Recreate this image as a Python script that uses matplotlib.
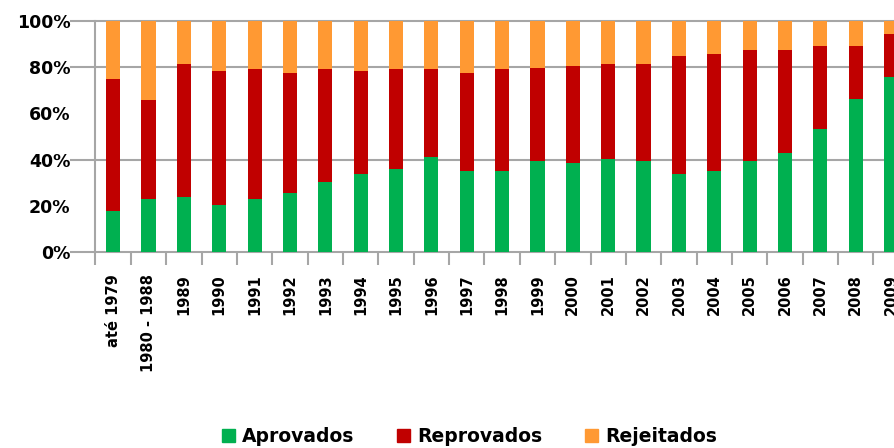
import matplotlib
matplotlib.use("Agg")
import matplotlib.pyplot as plt
from matplotlib.patches import Patch
import numpy as np

categories = ["até 1979", "1980 - 1988", "1989", "1990", "1991", "1992", "1993",
              "1994", "1995", "1996", "1997", "1998", "1999", "2000", "2001",
              "2002", "2003", "2004", "2005", "2006", "2007", "2008", "2009"]

# percentages
aprovados = [17.7, 22.8, 23.7, 20.2, 22.8, 25.4, 30.4, 33.9, 35.9, 41.1, 35.1, 35.1,
             39.4, 38.5, 40.3, 39.4, 33.9, 35.1, 39.4, 42.9, 53.2, 66.4, 75.9]
ate_reprovados = [75.0, 65.8, 81.5, 78.5, 79.4, 77.6, 79.4, 78.5, 79.4, 79.4, 77.6, 79.4,
                  79.7, 80.7, 81.5, 81.5, 84.8, 85.9, 87.6, 87.6, 89.3, 89.3, 94.5]

reprovados = [r - a for r, a in zip(ate_reprovados, aprovados)]
rejeitados = [100 - r for r in ate_reprovados]

GREEN = "#00B050"
RED = "#C00000"
ORANGE = "#FF9933"
GRID = "#A6A6A6"

plt.rcParams["font.family"] = ["DejaVu Sans"]

fig = plt.figure(figsize=(8.94, 4.48), dpi=100)
ax = fig.add_axes([0.1068, 0.4375, 0.9097, 0.5155])

x = np.arange(len(categories))
w = 0.4
ax.bar(x, aprovados, w, color=GREEN, zorder=3)
ax.bar(x, reprovados, w, bottom=aprovados, color=RED, zorder=3)
ax.bar(x, rejeitados, w, bottom=ate_reprovados, color=ORANGE, zorder=3)

ax.set_xlim(-0.5, len(categories) - 0.5)
ax.set_ylim(0, 100)

# gridlines (only these survive in the source image), with small stubs left of the axis
for yv in [0, 40, 80, 100]:
    ax.plot([-0.03, 1], [yv / 100, yv / 100], transform=ax.transAxes,
            color=GRID, lw=1.5, clip_on=False, zorder=1)

for s in ["top", "right", "bottom"]:
    ax.spines[s].set_visible(False)
ax.spines["left"].set_color(GRID)
ax.spines["left"].set_linewidth(1.5)

ax.set_yticks([0, 20, 40, 60, 80, 100])
ax.set_yticklabels([f"{v}%" for v in [0, 20, 40, 60, 80, 100]],
                   fontsize=12.5, fontweight="bold")
ax.tick_params(axis="y", length=0, pad=18)

ax.set_xticks(x)
ax.set_xticklabels(categories, rotation=90, fontsize=10.5, fontweight="bold", va="top")
ax.tick_params(axis="x", which="major", length=0, pad=16)
ax.set_xticks(np.arange(-0.5, len(categories), 1), minor=True)
ax.tick_params(axis="x", which="minor", length=9, width=1.5, color=GRID, direction="out")

handles = [Patch(color=GREEN, label="Aprovados"),
           Patch(color=RED, label="Reprovados"),
           Patch(color=ORANGE, label="Rejeitados")]
fig.legend(handles=handles, loc="center", bbox_to_anchor=(0.525, 0.025), ncol=3,
           frameon=False, prop={"size": 13.5, "weight": "bold"},
           handlelength=0.7, handleheight=0.7, handletextpad=0.35, columnspacing=2.3)

fig.savefig("out.png", dpi=100)
